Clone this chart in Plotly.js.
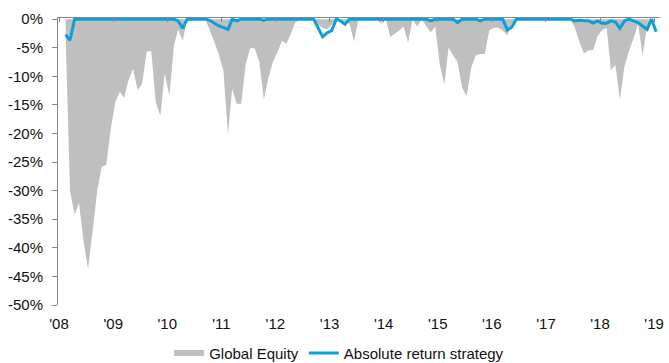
<!DOCTYPE html>
<html>
<head>
<meta charset="utf-8">
<script src="https://cdn.plot.ly/plotly-3.0.1.min.js"></script>
<style>html,body{margin:0;padding:0;background:#fff;}#chart{width:669px;height:363px;}</style>
</head>
<body>
<div id="chart"></div>
<script>
// Monthly drawdowns (%), Feb 2008 .. Jan 2019
var globalEquity = [
  -3.5,-30,-34.2,-32.2,-39,-43.7,-37,-30,-25.8,-25.5,-19.2,-14.5,
  -12.7,-13.8,-10.6,-8.7,-12.4,-11.3,-5.6,-5.6,-14.5,-16.9,-9.5,-13.4,
  -4.6,-1.8,-3.8,0,0,0,0,0,-2,-4,-6.2,-9,
  -20.2,-12.2,-14.8,-14.8,-7.8,-5.0,-5.2,-7.5,-14.1,-10.3,-7.5,-5.8,
  -3.8,-4.3,-2.5,-0.6,0,0,0,0,-1,-1.5,-1.8,-1.0,
  0,0,-0.5,-0.8,-3.9,0,0,0,0,0,-0.8,0,
  -3.1,-2.6,-2.0,-1.3,-4.1,0,-1.3,0,-1.2,-2.3,-1.3,-8,
  -11.4,-5,-6.3,-7.5,-12,-13.5,-8.5,-6.3,-6.1,-6.1,-2,-1.5,
  -1.5,-2,-2.8,-0.8,0,0,0,0,0,0,0,0,
  0,0,0,0,0,-1.5,-4,-6,-5.4,-5.5,-3,-1.9,
  -1.5,-8.9,-8,-14.1,-8.3,-5.6,-3.4,-0.8,-6.3,-1.2,-0.6,0
];
var absoluteReturn = [
  -2.7,-3.7,0,0,0,0,0,0,0,0,0,0,
  0,0,0,0,0,0,0,0,0,0,0,0,
  0,-0.3,-1.6,0,0,0,0,0,-0.2,-0.7,-1.2,-1.5,
  -1.8,0,-0.3,0,0,0,0,0,-0.2,0,0,0,
  0,0,0,0,0,0,0,0,-1.5,-3.1,-2.4,-2.0,
  0,-0.3,-0.9,0,0,0,0,0,0,0,0,0,
  0,0,0,0,0,0,0,0,0,-0.3,0,0,
  0,0,0,-0.6,0,0,0,0,-0.3,0,0,0,
  0,0,-1.9,-1.4,0,0,0,0,0,0,0,0,
  0,0,0,0,0,-0.3,-0.2,-0.3,-0.3,-0.7,-0.3,-0.7,
  -0.7,-0.3,-0.5,-1.6,-0.3,0,-0.3,-0.6,-1.2,-1.8,0,-2.2
];
var seriesNames = ['Global Equity', 'Absolute return strategy'];
var yearTicks = ['2008-01-01','2009-01-01','2010-01-01','2011-01-01','2012-01-01','2013-01-01','2014-01-01','2015-01-01','2016-01-01','2017-01-01','2018-01-01','2019-01-01'];
var yearLabels = ["'08","'09","'10","'11","'12","'13","'14","'15","'16","'17","'18","'19"];
var yTickVals = [0,-5,-10,-15,-20,-25,-30,-35,-40,-45,-50];
var yTickText = ['0%','-5%','-10%','-15%','-20%','-25%','-30%','-35%','-40%','-45%','-50%'];

var months = [];
for (var i = 0; i < globalEquity.length; i++) {
  var d = new Date(Date.UTC(2008, 1 + i, 15));
  months.push(d.toISOString().slice(0, 10));
}

var xRange = ['2007-12-25', '2019-02-10'];
var axisGrey = '#868686';

var traces = [
  {
    type: 'scatter', mode: 'none', x: months, y: globalEquity,
    name: seriesNames[0], fill: 'tozeroy', fillcolor: '#BFBFBF',
    hoverinfo: 'skip'
  },
  {
    type: 'scatter', mode: 'lines', x: months, y: absoluteReturn, xaxis: 'x2',
    name: seriesNames[1], line: {color: '#0AA0DA', width: 3}
  }
];

var layout = {
  width: 669, height: 363,
  margin: {l: 58, r: 9, t: 18, b: 58, autoexpand: false},
  paper_bgcolor: '#fff', plot_bgcolor: '#fff',
  font: {family: 'Liberation Sans, Arial, sans-serif', size: 15, color: '#111'},
  showlegend: true,
  xaxis: {
    type: 'date', range: xRange, tickmode: 'array', tickvals: yearTicks, ticktext: yearLabels,
    ticks: '', showline: false, showgrid: false, zeroline: false,
    tickfont: {size: 15}, ticklabelstandoff: 8, automargin: false
  },
  xaxis2: {
    type: 'date', range: xRange, overlaying: 'x', side: 'top', anchor: 'y',
    tickmode: 'array', tickvals: yearTicks, showticklabels: false,
    ticks: 'inside', ticklen: 4, tickcolor: axisGrey,
    showline: true, linecolor: axisGrey, linewidth: 1, showgrid: false, zeroline: false
  },
  yaxis: {
    range: [-50, 0.2], tickmode: 'array', tickvals: yTickVals, ticktext: yTickText,
    ticks: 'outside', ticklen: 5, tickcolor: axisGrey,
    showline: true, linecolor: axisGrey, linewidth: 1, showgrid: false, zeroline: false,
    tickfont: {size: 15}, ticklabelstandoff: 6, automargin: false
  },
  legend: {
    orientation: 'h', x: 0.467, xanchor: 'center', y: -0.168, yanchor: 'middle',
    font: {size: 15}, itemwidth: 30, traceorder: 'normal', bgcolor: 'rgba(0,0,0,0)'
  }
};

Plotly.newPlot('chart', traces, layout, {displayModeBar: false, staticPlot: true});
</script>
</body>
</html>
